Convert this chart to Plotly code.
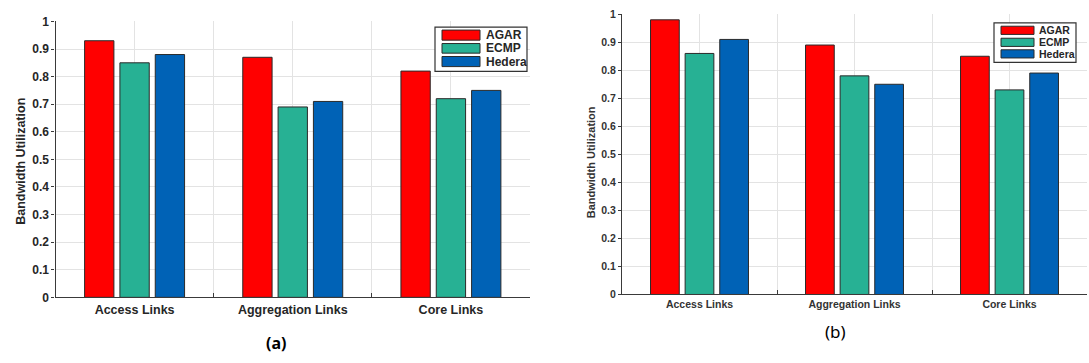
import plotly.graph_objects as go

W, H = 1089, 363

categories = ["Access Links", "Aggregation Links", "Core Links"]
series_names = ["AGAR", "ECMP", "Hedera"]
colors = ["#FF0000", "#27B194", "#0062B6"]

# (a)
a_agar = [0.93, 0.87, 0.82]
a_ecmp = [0.85, 0.69, 0.72]
a_hedera = [0.88, 0.71, 0.75]
# (b)
b_agar = [0.98, 0.89, 0.85]
b_ecmp = [0.86, 0.78, 0.73]
b_hedera = [0.91, 0.75, 0.79]

y_ticks = [0, 0.1, 0.2, 0.3, 0.4, 0.5, 0.6, 0.7, 0.8, 0.9, 1]
y_tick_text = ["0", "0.1", "0.2", "0.3", "0.4", "0.5", "0.6", "0.7", "0.8", "0.9", "1"]
panel_labels = ["<b>(a)</b>", "(b)"]
y_title = "Bandwidth Utilization"

xpos = list(range(len(categories)))


def px(x):
    return x / W


def py(y):
    return 1 - y / H


fig = go.Figure()

panels = [
    dict(data=[a_agar, a_ecmp, a_hedera], xa="x", ya="y"),
    dict(data=[b_agar, b_ecmp, b_hedera], xa="x2", ya="y2"),
]

for i, p in enumerate(panels):
    for s, (name, vals, col) in enumerate(zip(series_names, p["data"], colors)):
        fig.add_trace(go.Bar(
            x=xpos, y=vals, name=name, xaxis=p["xa"], yaxis=p["ya"],
            marker=dict(color=col, line=dict(color="#2a2a2a", width=1)),
            showlegend=False, offsetgroup=str(s),
        ))

axis_common_y = dict(
    range=[0, 1], tickvals=y_ticks, ticktext=y_tick_text,
    showgrid=True, gridcolor="#E3E3E3", gridwidth=1,
    showline=True, linecolor="#3a3a3a", linewidth=1.3,
    ticks="outside", ticklen=3, tickcolor="#3a3a3a",
    zeroline=False, fixedrange=True,
)
axis_common_x = dict(
    range=[-0.5, 2.5], tickvals=xpos, ticktext=categories,
    showgrid=True, gridcolor="#E3E3E3", gridwidth=1,
    showline=True, linecolor="#3a3a3a", linewidth=1.3,
    ticks="", zeroline=False, fixedrange=True,
    minor=dict(tickvals=[0.5, 1.5], showgrid=True, gridcolor="#E3E3E3",
               ticks="inside", ticklen=4, tickcolor="#3a3a3a"),
)

fig.update_layout(
    xaxis=dict(axis_common_x, domain=[px(55.5), px(530)], anchor="y",
               tickfont=dict(family="Liberation Sans", size=12.5, color="#262626", weight="bold")),
    yaxis=dict(axis_common_y, domain=[py(302), py(15)], anchor="x",
               tickfont=dict(family="Liberation Sans", size=12, color="#262626", weight="bold")),
    xaxis2=dict(axis_common_x, domain=[px(622), px(1087)], anchor="y2",
                tickfont=dict(family="Liberation Sans", size=10.5, color="#333333", weight="bold")),
    yaxis2=dict(axis_common_y, domain=[py(299), py(7.5)], anchor="x2",
                tickfont=dict(family="Liberation Sans", size=10.5, color="#333333", weight="bold")),
    barmode="group", bargap=0.33, bargroupgap=0.17,
    width=W, height=H, margin=dict(l=0, r=0, t=0, b=0),
    paper_bgcolor="white", plot_bgcolor="white",
    showlegend=False,
)

annotations = []
shapes = []

# y-axis titles
annotations.append(dict(text="<b>" + y_title + "</b>", x=px(21), y=py(161), xref="paper", yref="paper",
                        textangle=-90, showarrow=False, xanchor="center", yanchor="middle",
                        font=dict(family="Liberation Sans", size=12.5, color="#262626")))
annotations.append(dict(text="<b>" + y_title + "</b>", x=px(591), y=py(161.5), xref="paper", yref="paper",
                        textangle=-90, showarrow=False, xanchor="center", yanchor="middle",
                        font=dict(family="Liberation Sans", size=11, color="#333333")))

# panel labels
annotations.append(dict(text=panel_labels[0], x=px(276), y=py(349), xref="paper", yref="paper",
                        showarrow=False, xanchor="center", yanchor="middle",
                        font=dict(family="Noto Sans", size=16, color="black")))
annotations.append(dict(text=panel_labels[1], x=px(836), y=py(338), xref="paper", yref="paper",
                        showarrow=False, xanchor="center", yanchor="middle",
                        font=dict(family="Noto Sans", size=17, color="black")))

# manual legends (MATLAB style boxes)
legends = [
    dict(box=(435, 21, 527, 67), sw_x=(442, 480), rows=[(24, 34.5), (38, 48), (51.5, 62)],
         tx=484, fs=12),
    dict(box=(994, 16.5, 1076, 57.5), sw_x=(1001, 1034), rows=[(20, 28.5), (32.5, 41), (44.5, 53)],
         tx=1037, fs=10.5),
]
for lg in legends:
    x0, y0, x1, y1 = lg["box"]
    shapes.append(dict(type="rect", xref="paper", yref="paper",
                       x0=px(x0), x1=px(x1), y0=py(y1), y1=py(y0),
                       line=dict(color="#333333", width=1.2), fillcolor="white", layer="above"))
    for (r0, r1), col, name in zip(lg["rows"], colors, series_names):
        shapes.append(dict(type="rect", xref="paper", yref="paper",
                           x0=px(lg["sw_x"][0]), x1=px(lg["sw_x"][1]), y0=py(r1), y1=py(r0),
                           line=dict(color="#2a2a2a", width=1), fillcolor=col, layer="above"))
        annotations.append(dict(text="<b>" + name + "</b>", x=px(lg["tx"]), y=py((r0 + r1) / 2),
                                xref="paper", yref="paper", showarrow=False,
                                xanchor="left", yanchor="middle",
                                font=dict(family="Liberation Sans", size=lg["fs"], color="#262626")))

fig.update_layout(annotations=annotations, shapes=shapes)

fig.write_html("out.html")
